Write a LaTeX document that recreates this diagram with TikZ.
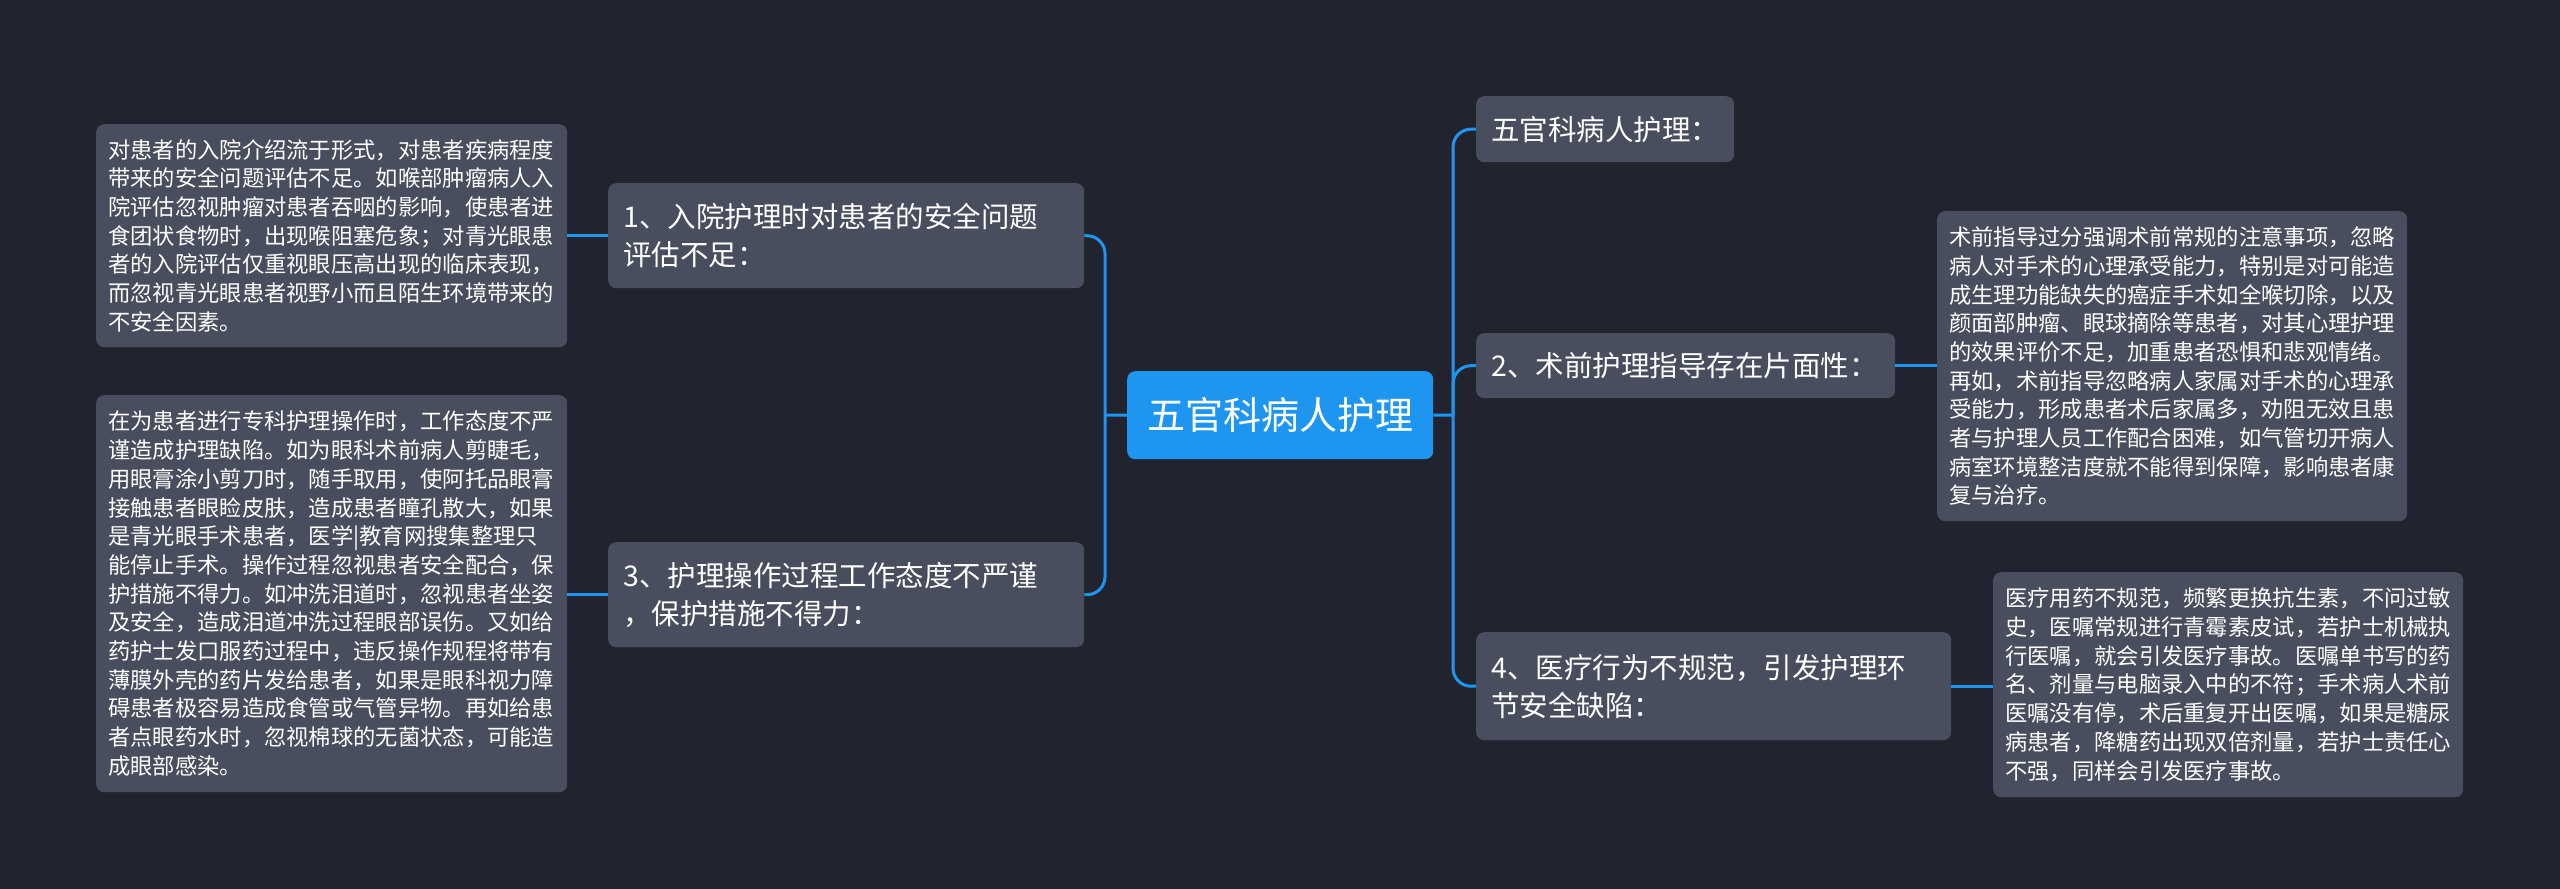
\documentclass[tikz,border=0pt]{standalone}
\usepackage{fontspec}
\newfontfamily\cjk{Noto Sans CJK SC}
\definecolor{bg}{RGB}{33,36,46}
\definecolor{boxc}{RGB}{72,78,94}
\definecolor{rootc}{RGB}{30,150,240}
\definecolor{linec}{RGB}{30,150,240}
\begin{document}
\begin{tikzpicture}[x=1pt,y=-1pt,
  base/.style={anchor=north west, rounded corners=8pt, inner ysep=0pt, text=white, align=left},
  leafbox/.style={base, fill=boxc, inner xsep=12pt, font=\cjk\fontsize{22.3}{28.7}\selectfont},
  topicbox/.style={base, fill=boxc, inner xsep=15pt, font=\cjk\fontsize{28.5}{38}\selectfont},
  rootbox/.style={base, fill=rootc, align=center, inner xsep=0pt, font=\cjk\fontsize{38}{46}\selectfont},
  conn/.style={draw=linec, line width=3pt},
  bendline/.style={conn, rounded corners=18pt}]
\useasboundingbox[fill=bg] (0,0) rectangle (2560,889);

% root
\node[rootbox, text width=306pt, minimum height=88pt] (root) at (1127,371) {五官科病人护理};

% left topics
\node[topicbox, text width=446pt, minimum height=105pt] (n1) at (608,183)
  {1、入院护理时对患者的安全问题\\评估不足：};
\node[topicbox, text width=446pt, minimum height=105pt] (n3) at (608,542)
  {3、护理操作过程工作态度不严谨\\，保护措施不得力：};

% right topics
\node[topicbox, text width=228pt, minimum height=66pt] (n0) at (1476,96)
  {五官科病人护理：};
\node[topicbox, text width=389pt, minimum height=65pt] (n2) at (1476,333)
  {2、术前护理指导存在片面性：};
\node[topicbox, text width=445pt, minimum height=108pt] (n4) at (1476,632)
  {4、医疗行为不规范，引发护理环\\节安全缺陷：};

% left leaves
\node[leafbox, text width=447pt, minimum height=223pt] (l1) at (96,124)
  {对患者的入院介绍流于形式，对患者疾病程度\\
   带来的安全问题评估不足。如喉部肿瘤病人入\\
   院评估忽视肿瘤对患者吞咽的影响，使患者进\\
   食团状食物时，出现喉阻塞危象；对青光眼患\\
   者的入院评估仅重视眼压高出现的临床表现，\\
   而忽视青光眼患者视野小而且陌生环境带来的\\
   不安全因素。};
\node[leafbox, text width=447pt, minimum height=397pt] (l3) at (96,395)
  {在为患者进行专科护理操作时，工作态度不严\\
   谨造成护理缺陷。如为眼科术前病人剪睫毛，\\
   用眼膏涂小剪刀时，随手取用，使阿托品眼膏\\
   接触患者眼睑皮肤，造成患者瞳孔散大，如果\\
   是青光眼手术患者，医学|教育网搜集整理只\\
   能停止手术。操作过程忽视患者安全配合，保\\
   护措施不得力。如冲洗泪道时，忽视患者坐姿\\
   及安全，造成泪道冲洗过程眼部误伤。又如给\\
   药护士发口服药过程中，违反操作规程将带有\\
   薄膜外壳的药片发给患者，如果是眼科视力障\\
   碍患者极容易造成食管或气管异物。再如给患\\
   者点眼药水时，忽视棉球的无菌状态，可能造\\
   成眼部感染。};

% right leaves
\node[leafbox, text width=446pt, minimum height=310pt] (r2) at (1937,211)
  {术前指导过分强调术前常规的注意事项，忽略\\
   病人对手术的心理承受能力，特别是对可能造\\
   成生理功能缺失的癌症手术如全喉切除，以及\\
   颜面部肿瘤、眼球摘除等患者，对其心理护理\\
   的效果评价不足，加重患者恐惧和悲观情绪。\\
   再如，术前指导忽略病人家属对手术的心理承\\
   受能力，形成患者术后家属多，劝阻无效且患\\
   者与护理人员工作配合困难，如气管切开病人\\
   病室环境整洁度就不能得到保障，影响患者康\\
   复与治疗。};
\node[leafbox, text width=446pt, minimum height=225pt] (r4) at (1993,572)
  {医疗用药不规范，频繁更换抗生素，不问过敏\\
   史，医嘱常规进行青霉素皮试，若护士机械执\\
   行医嘱，就会引发医疗事故。医嘱单书写的药\\
   名、剂量与电脑录入中的不符；手术病人术前\\
   医嘱没有停，术后重复开出医嘱，如果是糖尿\\
   病患者，降糖药出现双倍剂量，若护士责任心\\
   不强，同样会引发医疗事故。};

% buses
\coordinate (lb) at (1105,415);
\coordinate (rb) at (1453,415);

\draw[conn] (root.west) -- (lb);
\draw[bendline] (lb) |- (n1.east);
\draw[bendline] (lb) |- (n3.east);
\draw[conn] (root.east) -- (rb);
\draw[bendline] (rb) |- (n0.west);
\draw[bendline] (rb) |- (n2.west);
\draw[bendline] (rb) |- (n4.west);

% leaf connectors
\draw[conn] (n1.west) -- (n1.west -| l1.east);
\draw[conn] (n3.west) -- (n3.west -| l3.east);
\draw[conn] (n2.east) -- (n2.east -| r2.west);
\draw[conn] (n4.east) -- (n4.east -| r4.west);
\end{tikzpicture}
\end{document}
